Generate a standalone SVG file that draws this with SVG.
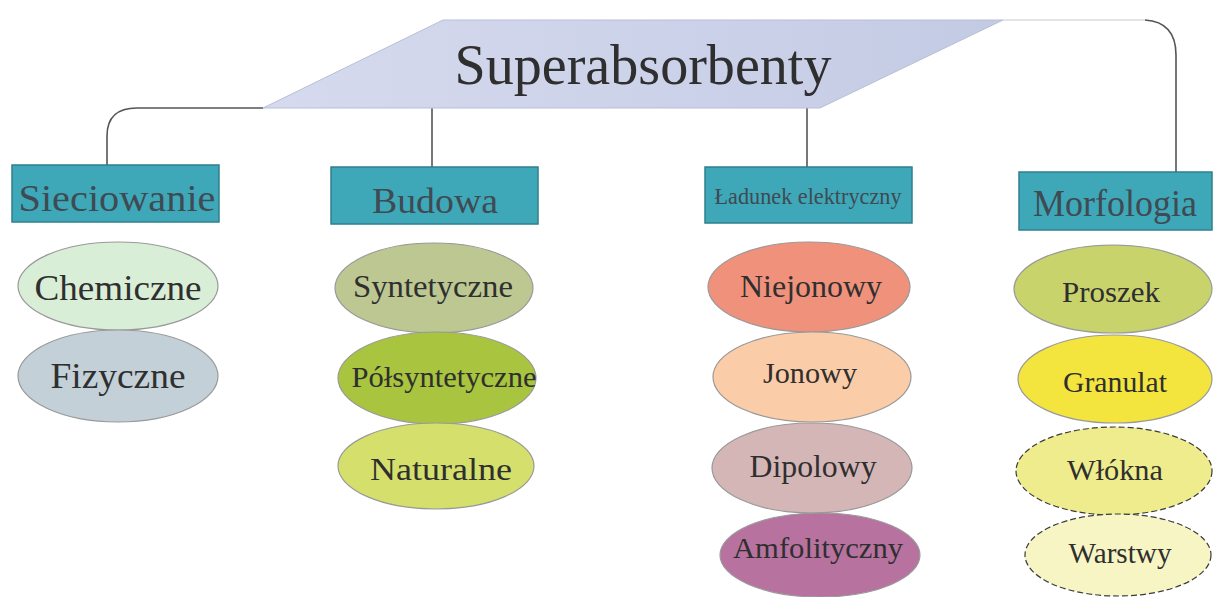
<svg xmlns="http://www.w3.org/2000/svg" width="1213" height="597" viewBox="0 0 1213 597">
<style>
text{font-family:"Liberation Serif","Times New Roman",serif;text-anchor:middle;fill:#2f2f2f}
.box{fill:#3ea8b9;stroke:#2f7f8d;stroke-width:1.5}
.bt{fill:#3f4a52}
.el{stroke:#999;stroke-width:1.2}
.dash{stroke:#3a3a3a;stroke-width:1.2;stroke-dasharray:6 3}
.con{fill:none;stroke:#555;stroke-width:1.6}
</style>
<defs>
<linearGradient id="pg" x1="0" y1="0" x2="1" y2="0">
<stop offset="0" stop-color="#d6daee"/>
<stop offset="1" stop-color="#c3cbe4"/>
</linearGradient>
</defs>
<g id="connectors">
<path class="con" d="M263,108 H137 Q107,108 107,136 V165"/>
<path class="con" d="M432,108 V167"/>
<path class="con" d="M807,108 V167"/>
<path d="M1003,20 H1145" fill="none" stroke="#dcdcdc" stroke-width="1.5"/>
<path class="con" d="M1145,20 Q1176,22 1176,55 V172"/>
</g>
<g id="superabsorbenty">
<polygon points="443,20 1003,20 820,108 263,108" fill="url(#pg)" stroke="#b8bfd6" stroke-width="1"/>
<text x="643" y="84" font-size="58" textLength="377" lengthAdjust="spacingAndGlyphs">Superabsorbenty</text>
</g>
<g id="sieciowanie">
<rect class="box" x="12" y="165" width="207" height="57"/>
<text class="bt" x="117" y="211" font-size="38" textLength="197" lengthAdjust="spacingAndGlyphs">Sieciowanie</text>
</g>
<g id="budowa">
<rect class="box" x="331" y="167" width="207" height="57"/>
<text class="bt" x="435" y="213" font-size="35" textLength="126" lengthAdjust="spacingAndGlyphs">Budowa</text>
</g>
<g id="ladunek">
<rect class="box" x="705" y="167" width="207" height="56"/>
<text class="bt" x="808" y="204" font-size="23" textLength="187" lengthAdjust="spacingAndGlyphs" fill="#4a5a60">Ładunek elektryczny</text>
</g>
<g id="morfologia">
<rect class="box" x="1019" y="172" width="193" height="58"/>
<text class="bt" x="1115" y="216" font-size="37" textLength="164" lengthAdjust="spacingAndGlyphs">Morfologia</text>
</g>
<g id="chemiczne">
<ellipse class="el" cx="118" cy="286" rx="100" ry="44" fill="#d9eed7"/>
<text x="118" y="300" font-size="36" textLength="167" lengthAdjust="spacingAndGlyphs" fill="#222">Chemiczne</text>
</g>
<g id="fizyczne">
<ellipse class="el" cx="118" cy="376" rx="100" ry="46" fill="#c3d0d8"/>
<text x="118" y="388" font-size="36" textLength="135" lengthAdjust="spacingAndGlyphs" fill="#444">Fizyczne</text>
</g>
<g id="syntetyczne">
<ellipse class="el" cx="434" cy="288" rx="99" ry="45" fill="#bcc792"/>
<text x="433" y="297" font-size="32" textLength="160" lengthAdjust="spacingAndGlyphs" fill="#555">Syntetyczne</text>
</g>
<g id="polsyntetyczne">
<ellipse class="el" cx="437" cy="378" rx="99" ry="46" fill="#a9c43e"/>
<text x="444" y="387" font-size="30" textLength="185" lengthAdjust="spacingAndGlyphs" fill="#4a5426">Półsyntetyczne</text>
</g>
<g id="naturalne">
<ellipse class="el" cx="436" cy="466" rx="98" ry="43" fill="#d5df6c"/>
<text x="441" y="480" font-size="31" textLength="142" lengthAdjust="spacingAndGlyphs" fill="#222">Naturalne</text>
</g>
<g id="niejonowy">
<ellipse class="el" cx="809" cy="287" rx="101" ry="45" fill="#f0917b"/>
<text x="811" y="297" font-size="31" textLength="142" lengthAdjust="spacingAndGlyphs" fill="#3c3030">Niejonowy</text>
</g>
<g id="jonowy">
<ellipse class="el" cx="812" cy="377" rx="99" ry="45" fill="#fbcca8"/>
<text x="810" y="383" font-size="30" textLength="94" lengthAdjust="spacingAndGlyphs" fill="#222">Jonowy</text>
</g>
<g id="dipolowy">
<ellipse class="el" cx="812" cy="468" rx="100" ry="45" fill="#d4b6b6"/>
<text x="813" y="477" font-size="31" textLength="127" lengthAdjust="spacingAndGlyphs" fill="#3a3a3a">Dipolowy</text>
</g>
<g id="amfolityczny">
<ellipse class="el" cx="820" cy="555" rx="100" ry="42" fill="#b8729f"/>
<text x="818" y="558" font-size="30" textLength="170" lengthAdjust="spacingAndGlyphs" fill="#6e4a5e">Amfolityczny</text>
</g>
<g id="proszek">
<ellipse class="el" cx="1113" cy="289" rx="99" ry="44" fill="#c9d36c"/>
<text x="1111" y="302" font-size="30" textLength="98" lengthAdjust="spacingAndGlyphs" fill="#222">Proszek</text>
</g>
<g id="granulat">
<ellipse class="el" cx="1115" cy="379" rx="97" ry="44" fill="#f4e43e"/>
<text x="1115" y="392" font-size="30" textLength="104" lengthAdjust="spacingAndGlyphs" fill="#6e6030">Granulat</text>
</g>
<g id="wlokna">
<ellipse class="dash" cx="1114" cy="471" rx="98" ry="44" fill="#eeec8c"/>
<text x="1115" y="480" font-size="30" textLength="96" lengthAdjust="spacingAndGlyphs" fill="#222">Włókna</text>
</g>
<g id="warstwy">
<ellipse class="dash" cx="1118" cy="555" rx="93" ry="41" fill="#f7f5c4"/>
<text x="1120" y="563" font-size="29" textLength="103" lengthAdjust="spacingAndGlyphs" fill="#222">Warstwy</text>
</g>
</svg>
